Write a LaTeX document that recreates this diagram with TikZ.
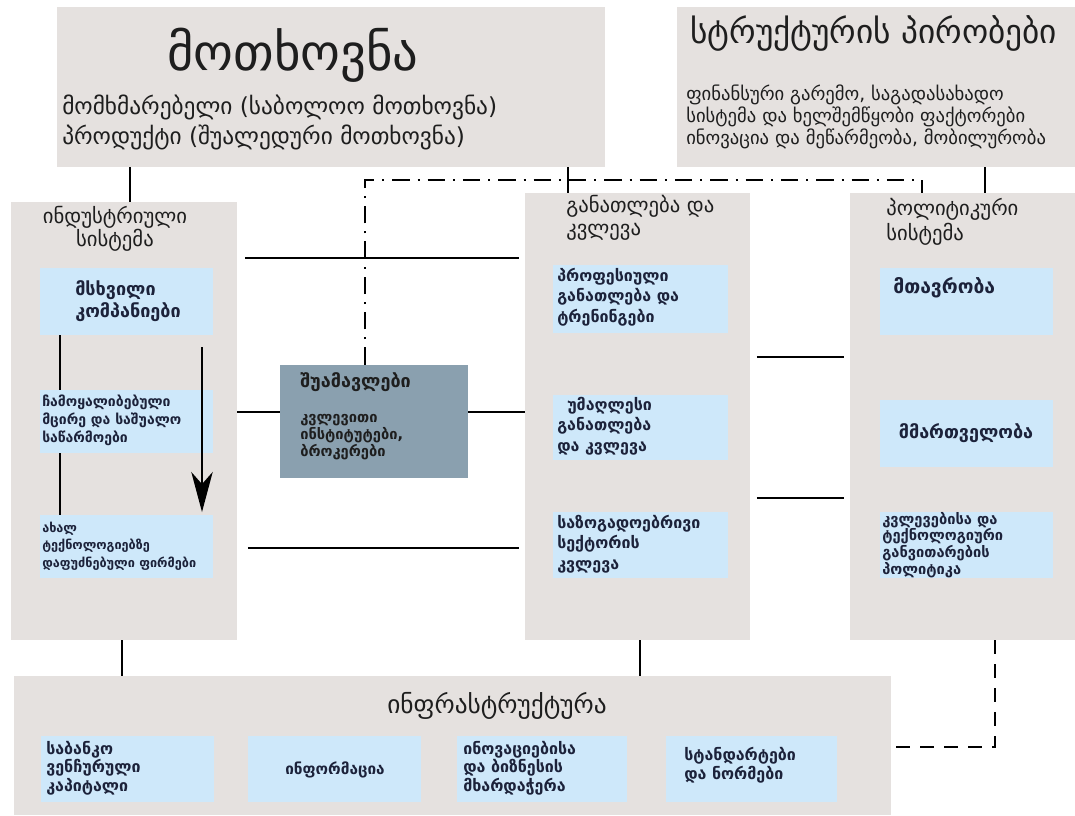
\documentclass[tikz,border=0pt]{standalone}
\usepackage{fontspec}
\newfontfamily\geo{DejaVu Sans}
\usetikzlibrary{fit,arrows.meta}
\definecolor{gboxc}{RGB}{229,225,223}
\definecolor{bboxc}{RGB}{206,232,250}
\definecolor{midc}{RGB}{138,160,175}
\definecolor{textc}{RGB}{30,30,30}
\definecolor{btextc}{RGB}{28,34,58}
\begin{document}
\begin{tikzpicture}[x=0.75pt,y=-0.75pt,
  gbox/.style={fill=gboxc,draw=none,inner sep=0pt},
  bbox/.style={fill=bboxc,draw=none,inner sep=0pt},
  mbox/.style={fill=midc,draw=none,inner sep=0pt},
  lbl/.style={inner sep=0pt,align=left,text=textc,anchor=west},
  blbl/.style={inner sep=0pt,align=left,text=btextc,anchor=west},
  conn/.style={line width=2.2pt,draw=black},
  thinconn/.style={line width=1.1pt,draw=black},
  dashdot/.style={line width=2pt,dash pattern=on 13pt off 6pt on 1.5pt off 6pt},
  dashline/.style={line width=2pt,dash pattern=on 10pt off 8pt},
  flow/.style={line width=2pt,-{Stealth[length=30pt,width=16pt,inset=9pt]}}]
\useasboundingbox (0,0) rectangle (1075,815);
% main boxes
\node[gbox,fit={(57,7)(605,167)}] (dem) {};
\node[gbox,fit={(677,7)(1075,167)}] (str) {};
\node[gbox,fit={(11,202)(237,640)}] (ind) {};
\node[gbox,fit={(525,193)(750,640)}] (edu) {};
\node[gbox,fit={(850,193)(1075,640)}] (pol) {};
\node[gbox,fit={(14,676)(891,815)}] (inf) {};
\node[mbox,fit={(280,365)(468,478)}] (mid) {};
% sub boxes
\node[bbox,fit={(40,268)(213,335)}] (ind1) {};
\node[bbox,fit={(40,390)(213,453)}] (ind2) {};
\node[bbox,fit={(40,515)(213,578)}] (ind3) {};
\node[bbox,fit={(553,265)(728,333)}] (edu1) {};
\node[bbox,fit={(553,395)(728,460)}] (edu2) {};
\node[bbox,fit={(553,512)(728,578)}] (edu3) {};
\node[bbox,fit={(880,268)(1053,335)}] (pol1) {};
\node[bbox,fit={(880,400)(1053,467)}] (pol2) {};
\node[bbox,fit={(880,512)(1053,578)}] (pol3) {};
\node[bbox,fit={(41,736)(214,802)}] (inf1) {};
\node[bbox,fit={(248,736)(421,802)}] (inf2) {};
\node[bbox,fit={(457,736)(627,802)}] (inf3) {};
\node[bbox,fit={(666,736)(837,802)}] (inf4) {};
% texts
\node[inner sep=0pt,text=textc,font=\geo\fontsize{38}{44}\selectfont] (tdem) at (293,55) {მოთხოვნა};
\node[lbl,font=\geo\fontsize{17.5}{22.5}\selectfont] (tdem2) at (62,122) {მომხმარებელი (საბოლოო მოთხოვნა)\\პროდუქტი (შუალედური მოთხოვნა)};
\node[lbl,font=\geo\fontsize{25}{30}\selectfont] (tstr) at (690,33) {სტრუქტურის პირობები};
\node[lbl,font=\geo\fontsize{14}{16.5}\selectfont] (tstr2) at (686,117) {ფინანსური გარემო, საგადასახადო\\სისტემა და ხელშემწყობი ფაქტორები\\ინოვაცია და მეწარმეობა, მობილურობა};
\node[inner sep=0pt,align=center,text=textc,font=\geo\fontsize{15.5}{17}\selectfont] (tind) at (115,229) {ინდუსტრიული\\სისტემა};
\node[blbl,font=\geo\bfseries\fontsize{13.5}{17}\selectfont] (tind1) at (75,301) {მსხვილი\\კომპანიები};
\node[blbl,font=\geo\bfseries\fontsize{10.5}{13.5}\selectfont] (tind2) at (42,420) {ჩამოყალიბებული\\მცირე და საშუალო\\საწარმოები};
\node[blbl,font=\geo\bfseries\fontsize{9.5}{13}\selectfont] (tind3) at (42,546) {ახალ\\ტექნოლოგიებზე\\დაფუძნებული ფირმები};
\node[lbl,font=\geo\fontsize{15.5}{17}\selectfont] (tedu) at (566,218) {განათლება და\\კვლევა};
\node[blbl,font=\geo\bfseries\fontsize{12}{15.5}\selectfont] (tedu1) at (557,297) {პროფესიული\\განათლება და\\ტრენინგები};
\node[blbl,font=\geo\bfseries\fontsize{12}{15.5}\selectfont] (tedu2) at (557,426) {\hspace*{7.5pt}უმაღლესი\\განათლება\\და კვლევა};
\node[blbl,font=\geo\bfseries\fontsize{12}{15.5}\selectfont] (tedu3) at (557,544) {საზოგადოებრივი\\სექტორის\\კვლევა};
\node[lbl,font=\geo\fontsize{15.5}{18.5}\selectfont] (tpol) at (886,222) {პოლიტიკური\\სისტემა};
\node[blbl,font=\geo\bfseries\fontsize{14.5}{16}\selectfont] (tpol1) at (893,288) {მთავრობა};
\node[inner sep=0pt,text=btextc,font=\geo\bfseries\fontsize{13.5}{16}\selectfont] (tpol2) at (966,433) {მმართველობა};
\node[blbl,font=\geo\bfseries\fontsize{11}{12.6}\selectfont] (tpol3) at (882,545) {კვლევებისა და\\ტექნოლოგიური\\განვითარების\\პოლიტიკა};
\node[lbl,font=\geo\bfseries\fontsize{13.5}{17}\selectfont] (tmid) at (300,382) {შუამავლები};
\node[lbl,font=\geo\bfseries\fontsize{11}{13}\selectfont] (tmid2) at (300,437) {კვლევითი\\ინსტიტუტები,\\ბროკერები};
\node[inner sep=0pt,text=textc,font=\geo\fontsize{19}{22}\selectfont] (tinf) at (497,706) {ინფრასტრუქტურა};
\node[blbl,font=\geo\bfseries\fontsize{12}{14}\selectfont] (tinf1) at (46,768) {საბანკო\\ვენჩურული\\კაპიტალი};
\node[inner sep=0pt,text=btextc,font=\geo\bfseries\fontsize{11.5}{14}\selectfont] (tinf2) at (335,770) {ინფორმაცია};
\node[blbl,font=\geo\bfseries\fontsize{12}{14}\selectfont] (tinf3) at (463,768) {ინოვაციებისა\\და ბიზნესის\\მხარდაჭერა};
\node[blbl,font=\geo\bfseries\fontsize{12}{14}\selectfont] (tinf4) at (684,765) {სტანდარტები\\და ნორმები};
% helper coordinates
\coordinate (cA) at (130,0);
\coordinate (cB) at (568,0);
\coordinate (cC) at (985,0);
\coordinate (cD) at (365,180);
\coordinate (cE) at (922,180);
\coordinate (cF) at (122,0);
\coordinate (cG) at (640,0);
\coordinate (cH) at (995,747);
\coordinate (cT) at (60,0);
\coordinate (cR) at (202,0);
\coordinate (y1) at (0,258);
\coordinate (y2) at (0,548);
\coordinate (y3) at (0,412);
\coordinate (y4) at (0,357);
\coordinate (y5) at (0,498);
% connectors
\draw[conn] (cA |- dem.south) -- (cA |- ind.north);
\draw[conn] (cB |- dem.south) -- (cB |- edu.north);
\draw[conn] (cC |- str.south) -- (cC |- pol.north);
\draw[conn,shorten <=6pt,shorten >=4pt] (ind.east |- y1) -- (edu.west |- y1);
\draw[conn,shorten <=8pt,shorten >=4pt] (ind.east |- y2) -- (edu.west |- y2);
\draw[conn] (ind.east |- y3) -- (mid.west |- y3);
\draw[conn] (mid.east |- y3) -- (edu.west |- y3);
\draw[conn,shorten <=5pt,shorten >=4pt] (edu.east |- y4) -- (pol.west |- y4);
\draw[conn,shorten <=5pt,shorten >=4pt] (edu.east |- y5) -- (pol.west |- y5);
\draw[thinconn] (cT |- ind1.south) -- (cT |- ind2.north);
\draw[thinconn] (cT |- ind2.south) -- (cT |- ind3.north);
\draw[flow,shorten <=9pt,shorten >=2pt] (cR |- ind1.south) -- (cR |- ind3.north);
\draw[conn] (cF |- ind.south) -- (cF |- inf.north);
\draw[conn] (cG |- edu.south) -- (cG |- inf.north);
\draw[dashdot] (cD |- mid.north) -- (cD) -- (cE) -- (cE |- pol.north);
\draw[dashline] (cH |- pol.south) -- (cH) -- (inf.east |- cH);
\end{tikzpicture}
\end{document}
